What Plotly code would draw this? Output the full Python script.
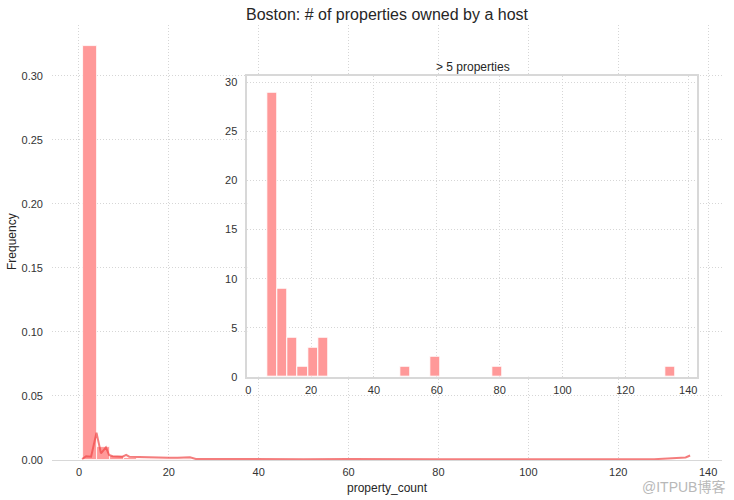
import plotly.graph_objects as go

# ---- data ----
# main histogram (density), bins of width 3 starting at 1
main_bin_left = [1, 4, 7, 10, 13, 16, 19, 22, 49, 58, 79, 133]
main_density = [0.3235, 0.0104, 0.0030, 0.0012, 0.0008, 0.0007, 0.0006, 0.0006,
                0.0003, 0.0003, 0.0003, 0.0003]
main_bin_width = 3

# KDE-like density line
kde_x = [0.7, 1.6, 2.7, 3.9, 4.9, 6.0, 6.7, 7.5, 9.7, 10.5, 11.2, 14.2, 17, 20,
         22, 24.7, 26, 30, 40, 50, 60, 70, 80, 90, 100, 110, 120, 128, 131, 133,
         135, 136]
kde_y = [0.0008, 0.0030, 0.0026, 0.0213, 0.0052, 0.0099, 0.0039, 0.0030, 0.0026,
         0.0040, 0.0026, 0.0022, 0.0020, 0.0018, 0.0018, 0.0022, 0.0008, 0.0007,
         0.0006, 0.0006, 0.0008, 0.0005, 0.0006, 0.0005, 0.0005, 0.0005, 0.0005,
         0.0006, 0.0012, 0.0015, 0.0020, 0.0035]

# inset histogram: hosts with > 5 properties (counts), 40 bins of width 3.25 from 6
inset_bin_left = [6.0, 9.25, 12.5, 15.75, 19.0, 22.25, 48.25, 58.0, 77.5, 132.75]
inset_counts = [29, 9, 4, 1, 3, 4, 1, 2, 1, 1]
inset_bin_width = 3.25

main_xticks = [0, 20, 40, 60, 80, 100, 120, 140]
main_yticks = [0.00, 0.05, 0.10, 0.15, 0.20, 0.25, 0.30]
inset_xticks = [0, 20, 40, 60, 80, 100, 120, 140]
inset_yticks = [0, 5, 10, 15, 20, 25, 30]

title = "Boston: # of properties owned by a host"
inset_title = "> 5 properties"
x_label = "property_count"
y_label = "Frequency"
watermark = "@ITPUB博客"

BAR = "#ff9999"
LINE = "rgba(240,70,70,0.7)"
GRID = "#d6d6d6"
GDASH = "1px,2px"
FRAME = "#d8d8d8"
TXT = "#333333"
FONT = "Liberation Sans, Arial, sans-serif"

fig = go.Figure()

fig.add_trace(go.Bar(
    x=[l + main_bin_width / 2 for l in main_bin_left], y=main_density,
    width=[main_bin_width] * len(main_bin_left),
    marker=dict(color=BAR, line=dict(color="white", width=0.8)),
    xaxis="x", yaxis="y", showlegend=False))

fig.add_trace(go.Scatter(
    x=kde_x, y=kde_y, mode="lines", line=dict(color=LINE, width=2),
    xaxis="x", yaxis="y", showlegend=False))

fig.add_trace(go.Bar(
    x=[l + inset_bin_width / 2 for l in inset_bin_left], y=inset_counts,
    width=[inset_bin_width] * len(inset_bin_left),
    marker=dict(color=BAR, line=dict(color="white", width=1)),
    xaxis="x2", yaxis="y2", showlegend=False))

# plot area in pixels: x 52..722, y 25..460
L, R, T, B = 52, 12, 25, 40
W, H = 734, 500
pw, ph = W - L - R, H - T - B

def px_x(p):
    return (p - L) / pw

def px_y(p):
    return (H - B - p) / ph

fig.update_layout(
    width=W, height=H,
    margin=dict(l=L, r=R, t=T, b=B),
    paper_bgcolor="white", plot_bgcolor="white",
    font=dict(family=FONT, size=11, color=TXT),
    bargap=0,
    title=dict(text=title, x=0.5, xref="paper", y=1 - 14 / H,
               yanchor="middle", xanchor="center",
               font=dict(size=16, color="#262626", family=FONT)),
    xaxis=dict(range=[-6.0, 143.1], tickvals=main_xticks, showgrid=True,
               gridcolor=GRID, griddash=GDASH, gridwidth=1, zeroline=False,
               showline=True, linecolor=FRAME, linewidth=1.2,
               ticks="", ticklabelstandoff=2, tickfont=dict(size=11, color=TXT)),
    yaxis=dict(range=[0, 0.3398], tickvals=main_yticks, tickformat=".2f",
               showgrid=True, gridcolor=GRID, griddash=GDASH, gridwidth=1,
               zeroline=False, showline=False, ticks="", ticklabelstandoff=8,
               tickfont=dict(size=11, color=TXT)),
    xaxis2=dict(domain=[px_x(247.3), px_x(696.7)], anchor="y2",
                range=[-0.3, 142.7], tickvals=inset_xticks, showgrid=True,
                gridcolor=GRID, griddash=GDASH, gridwidth=1, zeroline=False,
                showline=True, mirror=True, linecolor=FRAME, linewidth=1.5,
                ticks="", ticklabelstandoff=2, tickfont=dict(size=11, color=TXT)),
    yaxis2=dict(domain=[px_y(376.7), px_y(75.7)], anchor="x2",
                range=[0, 30.7], tickvals=inset_yticks, showgrid=True,
                gridcolor=GRID, griddash=GDASH, gridwidth=1, zeroline=False,
                showline=True, mirror=True, linecolor=FRAME, linewidth=1.5,
                ticks="", ticklabelstandoff=6, tickfont=dict(size=11, color=TXT)),
    annotations=[
        dict(text=inset_title, xref="paper", yref="paper",
             x=px_x(473), y=px_y(67), xanchor="center", yanchor="middle",
             showarrow=False, font=dict(size=12, color="#262626")),
        dict(text=x_label, xref="paper", yref="paper",
             x=0.5, y=px_y(488), xanchor="center", yanchor="middle",
             showarrow=False, font=dict(size=12, color="#262626")),
        dict(text=y_label, xref="paper", yref="paper", textangle=-90,
             x=px_x(12), y=px_y(242), xanchor="center", yanchor="middle",
             showarrow=False, font=dict(size=12, color="#262626")),
        dict(text=watermark, xref="paper", yref="paper",
             x=px_x(683), y=px_y(487), xanchor="center", yanchor="middle",
             showarrow=False,
             font=dict(size=14, color="#b8b8b8",
                       family="Liberation Sans, Noto Sans CJK SC, sans-serif")),
    ],
)

fig.write_html("out.html")
